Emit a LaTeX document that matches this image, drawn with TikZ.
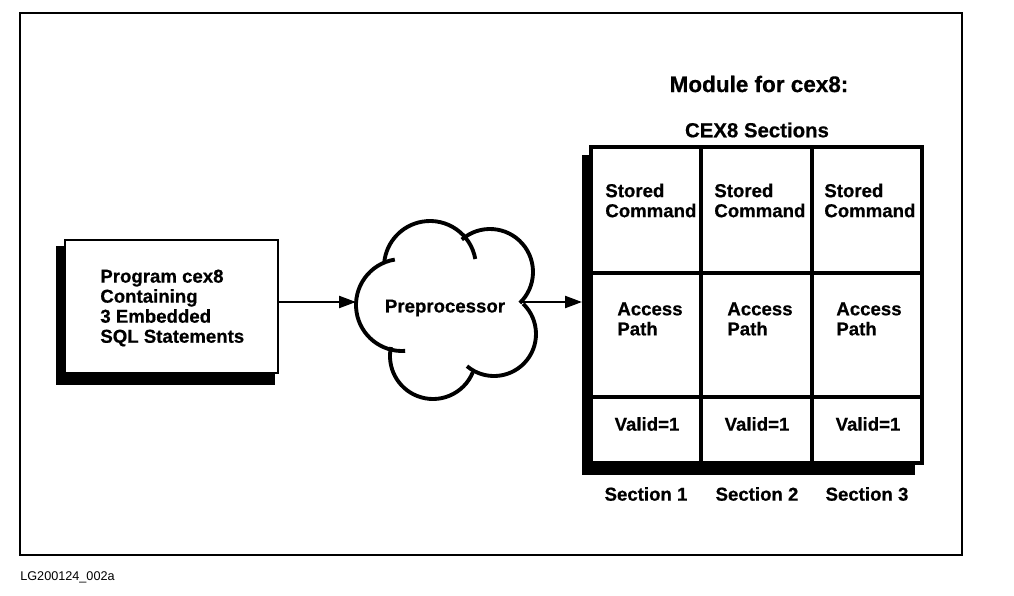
\documentclass[tikz,border=0pt]{standalone}
\usepackage{fontspec}
\setmainfont{Liberation Sans}[BoldFeatures={FakeBold=0.6}]
\usetikzlibrary{arrows.meta}

\begin{document}
\begin{tikzpicture}[
    txt/.style={font=\fontsize{10.6}{11.4}\selectfont\bfseries, inner sep=0pt},
    heavy/.style={line width=2pt},
    puff/.style={line width=2.2pt},
    link/.style={line width=1.3pt, -{Triangle[length=0.34cm,width=0.24cm]}}
  ]
    \useasboundingbox (0,0) rectangle (20.28,-11.92);
    % frame
    \draw[line width=1.7pt] (0.4,-0.26) rectangle (19.24,-11.1);
    \node[anchor=west, font=\fontsize{7.2}{8}\selectfont, inner sep=0pt] (tag) at (0.4,-11.54) {LG200124\_002a};

    % program box
    \fill[black] (1.12,-4.92) rectangle (5.5,-7.7);
    \draw[line width=1.7pt, fill=white] (1.3,-4.8) rectangle (5.56,-7.46);
    \node[txt, anchor=west, align=left] (prog) at (2.0,-6.16) {Program cex8\\Containing\\3 Embedded\\SQL Statements};
    \coordinate (progout) at (5.56,-6.04);

    % preprocessor cloud
    \draw[puff] (8.04,-6.10) ++(99:0.92) arc[start angle=99, end angle=274, radius=0.92];
    \draw[puff] (8.6,-5.34) ++(10:0.92) arc[start angle=10, end angle=174, radius=0.92];
    \draw[puff] (9.8,-5.44) ++(131:0.86) arc[start angle=131, end angle=-46, radius=0.86];
    \draw[puff] (9.88,-6.68) ++(46:0.84) arc[start angle=46, end angle=-130, radius=0.84];
    \draw[puff] (8.66,-7.12) ++(-22:0.86) arc[start angle=-22, end angle=-192, radius=0.86];
    \node[txt] (pre) at (8.9,-6.16) {Preprocessor};
    \coordinate (prein) at (7.12,-6.04);
    \coordinate (preout) at (10.44,-6.04);
    \draw[link] (progout) -- (prein);

    % module
    \node[txt, font=\fontsize{12.8}{14}\selectfont\bfseries] (module) at (15.18,-1.68) {Module for cex8:};
    \node[txt, font=\fontsize{11.6}{13}\selectfont\bfseries] (sections) at (15.14,-2.6) {CEX8 Sections};
    \fill[black] (11.64,-3.1) rectangle (18.3,-9.5);
    \draw[heavy, fill=white] (11.82,-2.94) rectangle (18.44,-9.26);
    \draw[heavy] (14.02,-2.94) -- (14.02,-9.26);
    \draw[heavy] (16.24,-2.94) -- (16.24,-9.26);
    \draw[heavy] (11.82,-5.46) -- (18.44,-5.46);
    \draw[heavy] (11.82,-7.94) -- (18.44,-7.94);
    \coordinate (gridin) at (11.64,-6.04);
    \draw[link] (preout) -- (gridin);

    \node[txt, anchor=west, align=left] (stored1) at (12.1,-4.01) {Stored\\Command};
    \node[txt, anchor=west, align=left] (stored2) at (14.28,-4.01) {Stored\\Command};
    \node[txt, anchor=west, align=left] (stored3) at (16.48,-4.01) {Stored\\Command};
    \node[txt, anchor=west, align=left] (access1) at (12.34,-6.38) {Access\\Path};
    \node[txt, anchor=west, align=left] (access2) at (14.54,-6.38) {Access\\Path};
    \node[txt, anchor=west, align=left] (access3) at (16.72,-6.38) {Access\\Path};
    \node[txt] (valid1) at (12.94,-8.48) {Valid=1};
    \node[txt] (valid2) at (15.14,-8.48) {Valid=1};
    \node[txt] (valid3) at (17.36,-8.48) {Valid=1};
    \node[txt] (sec1) at (12.92,-9.88) {Section 1};
    \node[txt] (sec2) at (15.14,-9.88) {Section 2};
    \node[txt] (sec3) at (17.34,-9.88) {Section 3};
  \end{tikzpicture}
\end{document}
